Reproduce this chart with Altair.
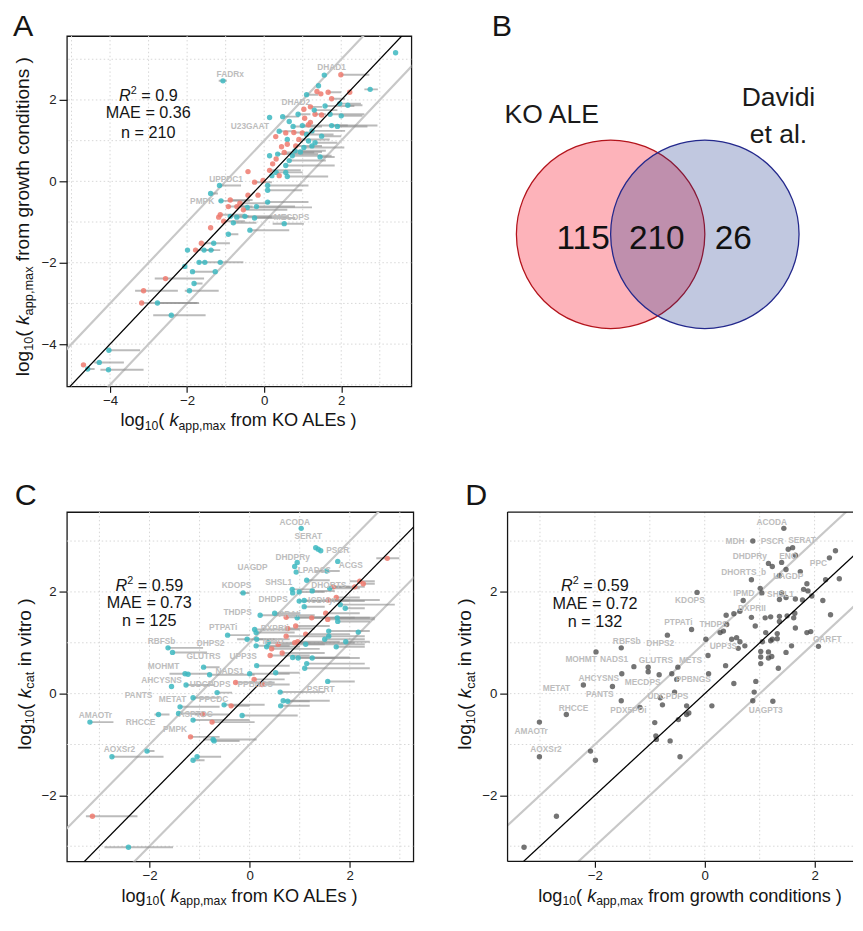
import math
import altair as alt
import pandas as pd

FONT = "Liberation Sans"
TEAL = "#3DB8C1"
RED = "#EE7A6E"
LABEL_GREY = "#BDBDBD"
GRID = "#D6D6D6"
INK = "#151515"

# ---------------- Panel A: KO ALE vs growth conditions ----------------
a_x = [3.41, -1.07, 1.56, 1.99, 2.75, 1.41, 1.10, 1.37, 1.66, 1.47,
       2.22, 1.75, 1.96, 2.17, 1.03, 1.20, 1.58, 0.88, 1.32, 1.49,
       1.71, 2.00, 0.14, 0.48, 0.65, 0.99, 1.15, 1.75, 1.90, 0.39,
       0.56, 0.77, 0.99, 1.24, 1.49, 0.60, 0.90, 1.15, 1.32, 0.60,
       0.82, 1.03, 1.24, 0.52, 0.35, 0.14, 0.73, 0.94, 1.45, 0.31,
       0.65, 0.22, 0.56, 0.14, -0.42, 0.31, 0.56, 0.39, 0.60, 0.20,
       -0.03, -0.25, -1.16, 0.09, 0.09, -1.39, -0.16, -0.42, -0.88, -1.12,
       -0.63, -0.93, -0.71, -0.44, -0.20, 0.09, -0.54, -1.14, -1.18, -0.88,
       -0.71, -0.50, -0.25, -1.05, -0.80, 0.52, -1.39, -0.37, -0.93, -1.63,
       -1.31, -1.99, -1.78, -1.56, -1.38, -2.06, -1.69, -1.54, -1.14, -1.86,
       -1.27, -2.56, -1.82, -3.13, -1.94, -3.18, -2.77, -2.41, -4.03, -4.28,
       -4.69, -4.58, -4.04,
       1.30, 1.05, 0.75, 1.10, 0.45, 0.80, 1.20, 0.30]
a_y = [3.16, 2.47, 2.61, 2.62, 2.26, 2.35, 2.13, 2.21, 2.19, 2.15,
       2.19, 2.03, 1.91, 1.87, 1.77, 1.83, 1.85, 1.65, 1.65, 1.63,
       1.65, 1.61, 1.57, 1.59, 1.47, 1.37, 1.39, 1.37, 1.35, 1.23,
       1.19, 1.20, 1.19, 1.24, 1.11, 1.03, 1.03, 0.99, 0.95, 0.91,
       0.87, 0.83, 0.87, 0.71, 0.67, 0.63, 0.63, 0.72, 0.60, 0.55,
       0.51, 0.43, 0.39, 0.27, 0.24, 0.22, 0.22, 0.14, 0.12, 0.14,
       0.02, -0.02, -0.10, -0.10, -0.22, -0.30, -0.34, -0.34, -0.46, -0.48,
       -0.54, -0.62, -0.62, -0.64, -0.62, -0.51, -0.70, -0.82, -0.88, -0.86,
       -0.88, -0.86, -0.90, -0.98, -1.02, -1.04, -1.14, -1.20, -1.30, -1.52,
       -1.52, -1.69, -1.69, -1.69, -1.69, -2.09, -1.99, -1.99, -1.99, -2.22,
       -2.22, -2.39, -2.51, -2.69, -2.69, -2.99, -2.99, -3.29, -4.15, -4.45,
       -4.51, -4.61, -4.63,
       1.75, 1.55, 1.35, 1.15, 0.85, 0.75, 1.45, 1.10]
a_c = ["t", "t", "t", "r", "t", "t", "t", "r", "r", "r",
       "r", "r", "t", "t", "r", "r", "t", "t", "r", "r",
       "t", "t", "t", "t", "t", "t", "r", "t", "t", "t",
       "r", "r", "r", "t", "t", "t", "r", "t", "t", "r",
       "r", "t", "t", "r", "t", "t", "t", "t", "t", "r",
       "t", "r", "t", "r", "r", "t", "t", "r", "t", "t",
       "r", "r", "t", "t", "t", "t", "r", "r", "r", "t",
       "r", "r", "r", "t", "t", "t", "r", "r", "r", "t",
       "t", "t", "t", "r", "t", "t", "r", "t", "t", "r",
       "t", "t", "r", "t", "t", "t", "t", "t", "t", "t",
       "t", "r", "t", "r", "t", "r", "t", "t", "t", "t",
       "r", "t", "t",
       "t", "r", "t", "t", "r", "t", "r", "r"]
a_lo = [3.41, -1.18, 1.56, 1.99, 2.60, 1.41, 1.10, 1.37, 1.66, 1.47,
        2.22, 1.75, 1.96, 2.17, 1.03, 1.20, 1.58, 0.88, 1.32, 1.49,
        1.71, 2.00, 0.14, 0.48, 0.65, 0.99, 1.15, 1.75, 1.90, 0.39,
        0.56, 0.77, 0.99, 1.24, 1.49, 0.60, 0.90, 1.15, 1.32, 0.60,
        0.82, 1.03, 1.24, 0.52, 0.35, 0.14, 0.73, 0.94, 1.45, 0.31,
        0.65, 0.22, 0.56, 0.14, -0.42, 0.31, 0.56, 0.39, 0.60, 0.20,
        -0.03, -0.25, -1.16, 0.09, 0.09, -1.39, -0.16, -0.42, -0.88, -1.18,
        -0.63, -0.93, -0.71, -0.44, -0.20, 0.09, -0.54, -1.14, -1.18, -0.88,
        -0.71, -0.50, -0.25, -1.05, -0.80, 0.22, -1.39, -0.37, -0.93, -1.63,
        -1.56, -1.99, -1.78, -1.56, -1.38, -2.06, -1.72, -1.54, -1.14, -1.86,
        -1.27, -2.84, -1.82, -3.35, -2.06, -3.18, -2.77, -2.88, -4.03, -4.41,
        -4.69, -4.58, -4.25,
        1.30, 1.05, 0.75, 1.10, 0.45, 0.80, 1.20, 0.30]
a_hi = [3.41, -0.97, 1.56, 2.73, 2.95, 1.41, 1.40, 1.37, 2.00, 1.47,
        2.22, 2.10, 2.51, 2.55, 1.03, 1.50, 2.34, 1.20, 1.60, 1.49,
        2.60, 2.55, 0.14, 0.90, 0.65, 2.17, 1.15, 2.94, 2.68, 0.80,
        0.56, 1.30, 0.99, 2.10, 2.00, 0.60, 1.70, 1.15, 1.90, 0.60,
        1.50, 2.08, 1.24, 1.30, 1.40, 0.14, 1.75, 1.50, 1.83, 0.31,
        1.60, 0.22, 1.83, 0.95, -0.42, 0.56, 1.00, 0.39, 1.66, 0.20,
        -0.03, 0.20, -0.60, 1.15, 0.98, -1.20, -0.16, -0.42, -0.30, -0.37,
        0.13, -0.50, -0.30, 1.24, 0.80, 1.15, 0.60, -0.50, -1.18, -0.40,
        0.20, 0.64, 0.81, -0.50, -0.20, 1.03, -1.39, 0.65, -0.67, -1.63,
        -0.89, -1.99, -1.30, -1.14, -1.38, -2.06, -0.54, -1.54, -1.14, -1.30,
        -1.27, -1.56, -1.60, -2.24, -1.18, -1.73, -1.69, -1.52, -3.22, -3.64,
        -4.69, -4.40, -3.13,
        1.90, 1.05, 1.50, 1.80, 0.45, 1.60, 1.20, 0.30]
a_lab = ["FADRx", "DHAD1", "DHAD2", "U23GAAT", "UPPDC1", "PMPK", "MECDPS"]
a_lab_x = [-0.88, 1.75, 0.82, -0.37, -0.99, -1.61, 0.71]
a_lab_y = [2.63, 2.80, 1.95, 1.35, 0.06, -0.48, -0.88]
a_stats = ["0.9", "0.36", "210"]

# ---------------- Panel B: Venn ----------------
venn_sets = ["KO ALE", "Davidi", "et al."]
venn_counts = ["115", "210", "26"]

# ---------------- Panel C: KO ALE vs in vitro kcat ----------------
c_x = [1.03, 1.32, 1.42, 1.37, 2.75, 1.76, 0.95, 0.90, 0.93, 1.54,
       1.14, 2.20, 2.27, 2.10, 1.67, -0.13, 0.85, 0.86, 0.99, 1.25,
       1.60, 0.99, 1.09, 1.57, 1.73, 1.81, 1.91, 1.09, 0.21, 0.50,
       0.73, 0.95, 1.24, 1.52, 1.56, 1.75, 1.76, -0.44, 0.10, 0.13,
       0.76, 0.92, 2.17, 1.58, 1.58, 1.50, -0.05, 0.14, 0.73, 1.12,
       0.37, 0.34, 0.44, 0.57, 0.90, 0.96, 1.12, 0.13, 1.92, 1.73,
       -1.63, -1.54, 0.41, 0.65, 0.86, 0.97, 1.25, 1.14, 1.10, -0.92,
       0.14, -1.29, -1.23, -0.80, 0.00, 0.52, 0.09, -0.28, 0.25, -1.27,
       -1.56, 1.56, -0.65, 0.61, -1.13, 0.67, 0.76, 0.62, -0.51, -0.37,
       -1.39, -1.82, -1.42, -0.93, -0.15, -1.13, -0.75, -3.19, -1.18, -0.73,
       -0.71, -2.05, -2.75, -1.05, -1.13, -3.14, -2.42]
c_y = [3.25, 2.87, 2.81, 2.84, 2.66, 2.60, 2.58, 2.50, 2.39, 2.41,
       2.23, 2.21, 2.16, 2.10, 2.10, 1.98, 2.05, 1.98, 2.00, 2.02,
       2.07, 1.82, 1.83, 1.84, 1.89, 1.75, 1.68, 1.71, 1.54, 1.58,
       1.50, 1.49, 1.49, 1.58, 1.46, 1.49, 1.42, 1.15, 1.26, 1.20,
       1.28, 1.33, 1.21, 1.23, 1.13, 1.07, 1.07, 1.07, 1.13, 1.17,
       1.00, 0.92, 0.88, 0.97, 1.00, 1.02, 0.97, 0.94, 1.02, 0.92,
       0.90, 0.81, 0.75, 0.80, 0.71, 0.70, 0.70, 0.59, 0.50, 0.52,
       0.55, 0.39, 0.38, 0.37, 0.39, 0.41, 0.28, 0.22, 0.18, 0.17,
       0.14, 0.24, 0.02, 0.03, -0.08, -0.14, -0.15, -0.24, -0.22, -0.24,
       -0.26, -0.41, -0.39, -0.41, -0.43, -0.52, -0.56, -0.56, -0.85, -0.90,
       -0.93, -1.13, -1.24, -1.24, -1.31, -2.41, -3.02]
c_c = ["t", "t", "t", "t", "r", "t", "t", "t", "t", "t",
       "t", "r", "r", "r", "r", "t", "t", "t", "t", "t",
       "t", "t", "t", "r", "r", "t", "t", "t", "t", "t",
       "r", "t", "r", "r", "r", "t", "t", "t", "t", "t",
       "r", "r", "t", "t", "t", "t", "t", "t", "r", "r",
       "t", "t", "r", "r", "r", "r", "t", "t", "t", "t",
       "t", "t", "r", "r", "t", "t", "t", "t", "t", "t",
       "t", "t", "t", "t", "t", "t", "r", "r", "r", "t",
       "t", "t", "t", "t", "t", "t", "t", "t", "t", "r",
       "t", "t", "t", "r", "t", "t", "r", "t", "r", "t",
       "t", "t", "t", "t", "t", "r", "t"]
c_lo = [1.03, 1.32, 1.42, 1.37, 2.53, 1.76, 0.95, 0.90, 0.93, 1.30,
        1.14, 2.00, 2.27, 1.70, 1.67, -0.20, 0.85, 0.86, 0.99, 1.25,
        1.60, 0.99, 1.09, 1.57, 1.73, 1.81, 1.91, 1.09, 0.21, 0.50,
        0.73, 0.95, 1.24, 1.52, 1.56, 1.75, 1.76, -0.44, 0.10, 0.13,
        0.76, 0.92, 2.17, 1.58, 1.58, 1.50, -0.25, 0.14, 0.73, 1.12,
        0.37, 0.34, 0.44, 0.57, 0.90, 0.96, 1.12, 0.13, 1.92, 1.73,
        -1.63, -1.54, 0.41, 0.65, 0.86, 0.97, 1.25, 1.14, 1.10, -0.92,
        0.14, -1.60, -1.23, -0.80, 0.00, 0.52, 0.09, -0.28, 0.25, -1.27,
        -1.56, 1.56, -0.65, 0.61, -1.13, 0.67, 0.76, 0.62, -0.51, -0.37,
        -1.39, -1.90, -1.42, -1.10, -0.15, -1.13, -0.75, -3.19, -1.18, -0.93,
        -0.71, -2.05, -2.75, -1.05, -1.13, -3.27, -2.90]
c_hi = [1.03, 1.32, 1.42, 1.37, 2.99, 1.76, 0.95, 0.90, 0.93, 1.80,
        1.60, 2.50, 2.50, 2.30, 2.00, 0.00, 1.30, 0.86, 1.50, 1.70,
        2.20, 2.30, 2.00, 2.60, 2.20, 2.90, 2.30, 1.50, 1.30, 1.00,
        1.50, 2.10, 2.40, 2.20, 2.50, 2.50, 2.40, 0.00, 1.00, 0.90,
        1.30, 1.60, 2.17, 2.40, 2.30, 2.30, 0.50, 0.80, 1.60, 2.00,
        1.20, 1.00, 1.40, 1.50, 2.10, 1.80, 2.30, 0.80, 2.40, 2.30,
        -0.93, -0.85, 1.20, 1.50, 2.00, 1.70, 2.20, 2.30, 2.40, -0.60,
        0.80, -0.80, -1.23, 0.10, 0.80, 1.00, 0.70, 0.50, 0.80, -0.70,
        -1.56, 2.10, -0.35, 1.50, -0.60, 1.60, 1.20, 1.20, 0.30, 0.00,
        -0.60, -1.60, -0.90, -0.40, 0.96, 0.00, 0.10, -2.72, -0.60, 0.14,
        -0.20, -1.90, -1.72, -0.57, -0.90, -2.24, -1.53]
c_lab = ["ACODA", "SERAT", "PSCR", "DHDPRy", "UAGDP", "LPADSS", "ACGS", "SHSL1",
         "DHORTS", "KDOPS", "DHDPS", "ICDHyr", "THDPS", "PRAIi", "PTPATi", "DXPRIi",
         "RBFSb", "DHPS2", "IPMD", "GLUTRS", "UPP3S", "MOHMT", "NADS1", "AHCYSNS",
         "UDCPDPS", "PPBNGS", "PANTS", "METAT", "PPCDC", "PSERT", "AMAOTr", "ASPTDC",
         "RHCCE", "PMPK", "AOXSr2"]
c_lab_x = [0.90, 1.17, 1.76, 0.86, 0.06, 1.29, 2.02, 0.58,
           1.58, -0.26, 0.47, 1.45, -0.24, 0.80, -0.53, 0.50,
           -1.76, -0.78, 0.47, -0.92, -0.13, -1.72, -0.40, -1.76,
           -0.79, 0.11, -2.22, -1.54, -0.72, 1.42, -3.08, -1.08,
           -2.18, -1.49, -2.60]
c_lab_y = [3.38, 3.09, 2.82, 2.69, 2.49, 2.42, 2.53, 2.20,
           2.14, 2.13, 1.86, 1.84, 1.60, 1.57, 1.31, 1.29,
           1.04, 1.00, 1.04, 0.73, 0.73, 0.54, 0.44, 0.26,
           0.18, 0.18, -0.03, -0.10, -0.10, 0.09, -0.43, -0.40,
           -0.56, -0.69, -1.09]
c_stats = ["0.59", "0.73", "125"]

# ---------------- Panel D: growth conditions vs in vitro kcat ----------------
d_x = [1.44, 0.875, 1.52, 1.60, 2.38, 2.27, 2.45, 2.20, 1.16, 1.23,
       1.40, 1.65, 1.74, 1.48, 1.36, 0.85, -0.14, 1.01, 1.04, 1.86,
       1.80, 1.88, 1.95, 1.40, 1.48, 0.70, 1.36, 1.65, 1.78, 2.15,
       0.64, 0.53, 0.85, 1.10, 1.20, 1.36, 1.36, 1.50, 1.62, 1.64,
       2.29, 0.39, 0.28, 0.34, 0.40, 0.92, 1.65, -0.24, -0.68, 1.11,
       1.32, 1.23, 1.32, 1.05, 1.20, 1.86, 1.93, 2.07, 0.02, 0.49,
       0.58, 0.64, 0.61, 0.73, 1.58, 1.48, -1.52, -1.98, 0.06, 1.02,
       1.16, 1.02, 1.16, 1.22, 1.02, 0.38, 1.34, -1.29, -1.03, -1.03,
       -0.83, -0.49, -0.60, -1.51, 0.07, -0.51, 0.53, 0.93, -2.21, -1.68,
       -0.55, 0.90, -1.52, -0.81, -0.77, -0.33, -0.29, -0.33, 0.13, 0.875,
       1.24, -1.18, -2.52, -0.48, -3.01, -0.91, -0.89, -0.88, -0.63, -2.08,
       -3.01, -1.99, -0.45, -2.70, -3.29]
d_y = [3.25, 3.00, 2.84, 2.87, 2.81, 2.67, 2.26, 2.24, 2.56, 2.50,
       2.58, 2.72, 2.40, 2.44, 2.32, 2.24, 1.99, 2.07, 1.98, 2.16,
       2.05, 2.02, 1.92, 1.98, 1.89, 1.83, 1.85, 1.86, 1.84, 1.83,
       1.62, 1.57, 1.50, 1.49, 1.51, 1.52, 1.42, 1.53, 1.49, 1.58,
       1.55, 1.54, 1.20, 1.23, 1.36, 1.33, 1.29, 1.26, 1.15, 1.20,
       1.18, 1.07, 1.08, 1.02, 1.04, 1.20, 1.22, 0.93, 1.07, 1.07,
       1.10, 1.02, 0.89, 0.94, 0.94, 0.81, 0.90, 0.82, 0.75, 0.83,
       0.82, 0.72, 0.70, 0.73, 0.59, 0.55, 0.50, 0.53, 0.52, 0.43,
       0.37, 0.52, 0.39, 0.39, 0.39, 0.28, 0.20, 0.24, 0.17, 0.14,
       0.03, 0.03, -0.14, -0.08, -0.22, -0.24, -0.38, -0.41, -0.24, -0.14,
       -0.15, -0.27, -0.41, -0.51, -0.56, -0.57, -0.83, -0.90, -0.93, -1.13,
       -1.24, -1.31, -1.24, -2.41, -3.02]
d_lab = ["ACODA", "MDH", "PSCR", "SERAT", "DHDPRy", "ENO", "PPC", "DHORTS_b",
         "UAGDP", "IPMD", "SHSL1", "KDOPS", "DXPRII", "PTPATi", "THDPS", "GARFT",
         "RBFSb", "DHPS2", "UPP3S", "MOHMT", "NADS1", "GLUTRS", "METS", "AHCYSNS",
         "MECDPS", "PPBNGS", "METAT", "PANTS", "UDCPDPS", "RHCCE", "PDX5POi",
         "UAGPT3", "AMAOTr", "AOXSr2"]
d_lab_x = [1.22, 0.55, 1.23, 1.77, 0.82, 1.52, 2.07, 0.71,
           1.52, 0.71, 1.38, -0.27, 0.86, -0.48, 0.16, 2.23,
           -1.42, -0.81, 0.34, -2.25, -1.65, -0.89, -0.26, -1.93,
           -1.13, -0.21, -2.70, -1.91, -0.67, -2.39, -1.39,
           1.11, -3.16, -2.89]
d_lab_y = [3.38, 3.00, 3.00, 3.02, 2.71, 2.71, 2.56, 2.39,
           2.31, 1.97, 1.96, 1.84, 1.68, 1.41, 1.37, 1.07,
           1.04, 1.00, 0.93, 0.68, 0.68, 0.66, 0.66, 0.30,
           0.22, 0.28, 0.10, -0.01, -0.04, -0.28, -0.32,
           -0.32, -0.73, -1.09]
d_stats = ["0.59", "0.72", "132"]

# ---------------- helpers ----------------
WIDTHS = {" ": 278, "(": 333, ")": 333, ",": 278, ".": 278, "=": 584, "_": 556,
          "A": 667, "E": 667, "K": 667, "L": 556, "M": 833, "O": 778, "R": 722,
          "a": 556, "c": 500, "d": 556, "e": 556, "f": 278, "g": 556, "h": 556,
          "i": 222, "k": 500, "l": 222, "m": 833, "n": 556, "o": 556, "p": 556,
          "r": 333, "s": 500, "t": 278, "u": 556, "v": 500, "w": 722, "x": 500}


def tw(s, size):
    return sum(WIDTHS.get(ch, 556) for ch in s) * size / 1000.0


def one():
    return alt.Data(values=[{}])


def text_at(txt, x, y, size, color=INK, style="normal", weight="normal",
            align="left", angle=0, dx=0.0, dy=0.0):
    return alt.Chart(one()).mark_text(
        text=txt, font=FONT, fontSize=size, fontStyle=style, fontWeight=weight,
        align=align, baseline="alphabetic", color=color, angle=angle,
        dx=dx, dy=dy,
    ).encode(x=alt.value(x), y=alt.value(y))


def rich(pieces, x, y, angle=0, color=INK):
    total = sum(tw(t, s) for t, s, _, _ in pieces)
    off = -total / 2.0
    out = []
    for t, s, style, dy in pieces:
        lead = tw(t[: len(t) - len(t.lstrip())], s)
        out.append(text_at(t.strip(), x, y, s, color=color, style=style,
                           angle=angle, dx=round(off + lead, 2), dy=dy))
        off += tw(t, s)
    return out


def ktitle(sub, rest, size, subsize, subdy=4):
    return [("log", size, "normal", 0), ("10", subsize, "normal", subdy),
            ("( ", size, "normal", 0), ("k", size, "italic", 0),
            (sub, subsize, "normal", subdy), (" " + rest + " )", size, "normal", 0)]


def stats_block(vals, cx, y1, y2, y3):
    size = 16.5
    layers = rich([("R", size, "italic", 0), ("2", 11, "normal", -7),
                   (" = " + vals[0], size, "normal", 0)], cx, y1)
    layers.append(text_at("MAE = " + vals[1], cx, y2, size, align="center"))
    layers.append(text_at("n = " + vals[2], cx, y3, size, align="center"))
    return layers


def scatter_panel(pts, labs, xdom, ydom, w, h, xticks, yticks, colored,
                  errbars, open_right=False):
    xs = alt.Scale(domain=xdom, nice=False, zero=False)
    ys = alt.Scale(domain=ydom, nice=False, zero=False)
    xax = alt.Axis(values=xticks, title=None, grid=False, domain=False,
                   ticks=True, labels=True, tickSize=6, labelPadding=1,
                   tickColor=INK, tickWidth=1.2, labelFont=FONT,
                   labelFontSize=13.5, labelColor="#222222")
    yax = alt.Axis(values=yticks, title=None, grid=False, domain=False,
                   ticks=True, labels=True, tickSize=8, labelPadding=3,
                   tickColor=INK, tickWidth=1.2, labelFont=FONT,
                   labelFontSize=13.5, labelColor="#222222")

    def X(f):
        return alt.X(f, scale=xs, axis=xax)

    def Y(f):
        return alt.Y(f, scale=ys, axis=yax)

    gx = pd.DataFrame({"v": list(range(math.ceil(xdom[0]), math.floor(xdom[1]) + 1))})
    gy = pd.DataFrame({"v": list(range(math.ceil(ydom[0]), math.floor(ydom[1]) + 1))})
    vgrid = alt.Chart(gx).mark_rule(color=GRID, strokeDash=[1.5, 2.5], strokeWidth=1).encode(
        x=X("v:Q"))
    hgrid = alt.Chart(gy).mark_rule(color=GRID, strokeDash=[1.5, 2.5], strokeWidth=1).encode(
        y=Y("v:Q"))
    ref = pd.DataFrame({"x": [xdom[0] - 1, xdom[1] + 1] * 3, "off": [1, 1, -1, -1, 0, 0]})
    band = alt.Chart(ref).transform_filter("datum.off != 0").transform_calculate(
        y="datum.x + datum.off").mark_line(clip=True, color="#C8C8C8", strokeWidth=2.2).encode(
        x=X("x:Q"), y=Y("y:Q"), detail="off:N")
    ident = alt.Chart(ref).transform_filter("datum.off == 0").transform_calculate(
        y="datum.x").mark_line(clip=True, color="black", strokeWidth=1.3).encode(
        x=X("x:Q"), y=Y("y:Q"))
    layers = [vgrid, hgrid, band]
    if errbars:
        layers.append(alt.Chart(pts).transform_filter("datum.hi > datum.lo").mark_rule(
            clip=True, color="#8E8E8E", strokeWidth=2, opacity=0.6).encode(
            x=X("lo:Q"), x2="hi:Q", y=Y("y:Q")))
    if colored:
        dots = alt.Chart(pts).mark_circle(size=30, opacity=0.85, clip=True).encode(
            x=X("x:Q"), y=Y("y:Q"),
            color=alt.Color("c:N", scale=alt.Scale(domain=["r", "t"], range=[RED, TEAL]),
                            legend=None))
    else:
        dots = alt.Chart(pts).mark_circle(size=30, opacity=0.75, clip=True, color="#454545").encode(
            x=X("x:Q"), y=Y("y:Q"))
    layers.append(dots)
    layers.append(ident)
    layers.append(alt.Chart(labs).mark_text(
        font=FONT, fontSize=8.5, fontWeight="bold", color=LABEL_GREY).encode(
        x=X("x:Q"), y=Y("y:Q"), text="name:N"))
    if open_right:
        for enc in (dict(x=alt.value(0), x2=alt.value(w), y=alt.value(0)),
                    dict(x=alt.value(0), x2=alt.value(w), y=alt.value(h)),
                    dict(x=alt.value(0), y=alt.value(0), y2=alt.value(h))):
            layers.append(alt.Chart(one()).mark_rule(color=INK, strokeWidth=1.3).encode(**enc))
    return layers


# ---------------- Panel A ----------------
A_W, A_H = 351, 357
a_pts = pd.DataFrame({"x": a_x, "y": a_y, "c": a_c, "lo": a_lo, "hi": a_hi})
a_labs = pd.DataFrame({"name": a_lab, "x": a_lab_x, "y": a_lab_y})
a_layers = scatter_panel(a_pts, a_labs, [-5.12, 3.82], [-5.04, 3.57], A_W, A_H,
                         [-4, -2, 0, 2], [-4, -2, 0, 2], True, True)
a_layers += stats_block(a_stats, 83, 66, 84, 104)
a_layers += rich(ktitle("app,max", "from KO ALEs", 18.5, 12.5), A_W / 2, A_H + 40)
a_layers += rich(ktitle("app,max", "from growth conditions", 19.5, 13), -39, 184, angle=270)
a_layers.append(text_at("A", -55, 0, 31))
panel_a = alt.layer(*a_layers).properties(width=A_W, height=A_H)

# ---------------- Panel B ----------------
B_W, B_H = 365, 357
bxs = alt.Scale(domain=[0, B_W], nice=False, zero=False)
bys = alt.Scale(domain=[0, B_H], nice=False, zero=False, reverse=True)
R = 96
circ = pd.DataFrame({"cx": [121, 217], "cy": [202, 202], "set": ["KO ALE", "Davidi et al."]})
red_c = alt.Chart(circ).transform_filter("datum.set == 'KO ALE'").mark_circle(
    size=(2 * R) ** 2, fill="#FDB3BA", fillOpacity=1, opacity=1,
    stroke="#B3141C", strokeWidth=1.3, strokeOpacity=1).encode(
    x=alt.X("cx:Q", scale=bxs, axis=None), y=alt.Y("cy:Q", scale=bys, axis=None))
blue_c = alt.Chart(circ).transform_filter("datum.set != 'KO ALE'").mark_circle(
    size=(2 * R) ** 2, fill="#102B88", fillOpacity=0.26, opacity=1,
    stroke="#23288C", strokeWidth=1.3, strokeOpacity=1).encode(
    x=alt.X("cx:Q", scale=bxs, axis=None), y=alt.Y("cy:Q", scale=bys, axis=None))
set_df = pd.DataFrame({"t": venn_sets, "x": [61, 292, 292], "y": [89, 71, 109]})
set_text = alt.Chart(set_df).mark_text(font=FONT, fontSize=27, color="#1a1a1a",
                                       baseline="alphabetic", align="center").encode(
    x=alt.X("x:Q", scale=bxs, axis=None), y=alt.Y("y:Q", scale=bys, axis=None), text="t:N")
cnt_df = pd.DataFrame({"t": venn_counts, "x": [93, 168, 246], "y": [217, 217, 217]})
cnt_text = alt.Chart(cnt_df).mark_text(font=FONT, fontSize=34, color="#111111",
                                       baseline="alphabetic", align="center").encode(
    x=alt.X("x:Q", scale=bxs, axis=None), y=alt.Y("y:Q", scale=bys, axis=None), text="t:N")
panel_b = alt.layer(red_c, blue_c, set_text, cnt_text, text_at("B", 0, 0, 31)).properties(
    width=B_W, height=B_H, view=alt.ViewBackground(stroke="transparent"))

# ---------------- Panel C ----------------
C_W, C_H = 353, 356
c_pts = pd.DataFrame({"x": c_x, "y": c_y, "c": c_c, "lo": c_lo, "hi": c_hi})
c_labs = pd.DataFrame({"name": c_lab, "x": c_lab_x, "y": c_lab_y})
c_layers = scatter_panel(c_pts, c_labs, [-3.65, 3.27], [-3.30, 3.57], C_W, C_H,
                         [-2, 0, 2], [-2, 0, 2], True, True)
c_layers += stats_block(c_stats, 84, 80, 98, 116)
c_layers += rich(ktitle("app,max", "from KO ALEs", 18.5, 12.5, 3.5), C_W / 2, C_H + 41)
c_layers += rich(ktitle("cat", "in vitro", 19.5, 13), -37, 165, angle=270)
c_layers.append(text_at("C", -53, -7, 31))
panel_c = alt.layer(*c_layers).properties(width=C_W, height=C_H)

# ---------------- Panel D ----------------
D_W, D_H = 352, 356
d_pts = pd.DataFrame({"x": d_x, "y": d_y})
d_labs = pd.DataFrame({"name": d_lab, "x": d_lab_x, "y": d_lab_y})
d_layers = scatter_panel(d_pts, d_labs, [-3.59, 2.70], [-3.30, 3.57], D_W, D_H,
                         [-2, 0, 2], [-2, 0, 2], False, False, open_right=True)
d_layers += stats_block(d_stats, 89, 80, 99, 117)
d_layers += rich(ktitle("app,max", "from growth conditions", 18.5, 12.5, 3.5), 186, D_H + 41)
d_layers += rich(ktitle("cat", "in vitro", 19.5, 13), -37, 165, angle=270)
d_layers.append(text_at("D", -43, -7, 31))
panel_d = alt.layer(*d_layers).properties(
    width=D_W, height=D_H, view=alt.ViewBackground(stroke="transparent"))

chart = alt.vconcat(
    alt.hconcat(panel_a, panel_b, spacing=79),
    alt.hconcat(panel_c, panel_d, spacing=40),
    spacing=47,
).properties(
    padding={"left": 4, "top": -6, "right": 0, "bottom": 0},
    background="white",
).configure_view(stroke=INK, strokeWidth=1.3)

chart.save("out.html", embed_options={"renderer": "svg", "actions": False})
